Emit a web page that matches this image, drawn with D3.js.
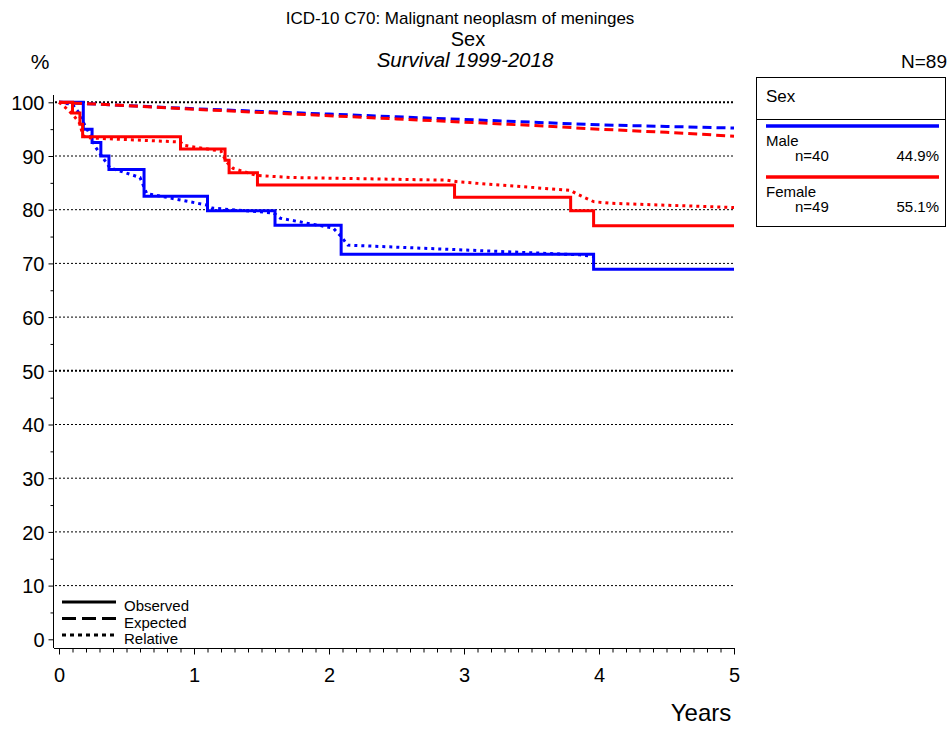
<!DOCTYPE html>
<html>
<head>
<meta charset="utf-8">
<script src="https://cdn.jsdelivr.net/npm/d3@7"></script>
<style>
  body { margin: 0; background: #ffffff; }
  svg { display: block; font-family: "Liberation Sans", Arial, sans-serif; }
</style>
</head>
<body>
<div id="svgOutput"></div>
<script>
// data

const years = [0, 1, 2, 3, 4, 5];
const yTicks = [0, 10, 20, 30, 40, 50, 60, 70, 80, 90, 100];

const maleObsT = [0, 0.18, 0.245, 0.31, 0.37, 0.63, 1.10, 1.60, 2.09, 3.96, 5];
const maleObsS = [100, 95.0, 92.5, 90.0, 87.5, 82.5, 79.8, 77.1, 71.7, 68.9, 68.9];
const maleExpT = [0, 0.5, 1, 1.5, 2, 2.5, 3, 3.5, 4, 4.5, 5];
const maleExpS = [100, 99.4, 98.8, 98.3, 97.8, 97.3, 96.8, 96.3, 95.8, 95.5, 95.2];
const maleRelT = [0, 0.1, 0.143, 0.156, 0.19, 0.24, 0.267, 0.316, 0.378, 0.6, 0.65, 1.09, 1.13, 1.59, 1.64, 2.03, 2.09, 2.14, 3.86, 3.96];
const maleRelS = [100, 99.6, 98.2, 97.3, 95.8, 93.5, 91.8, 90.0, 87.8, 86.0, 83.0, 80.9, 80.3, 79.4, 78.4, 76.6, 75.0, 73.4, 71.6, 71.3];

const femaleObsT = [0, 0.1, 0.155, 0.175, 0.90, 1.23, 1.26, 1.47, 2.93, 3.79, 3.96, 5];
const femaleObsS = [100, 98.0, 95.9, 93.6, 91.3, 89.2, 86.9, 84.6, 82.3, 79.8, 77.0, 77.0];
const femaleExpT = [0, 0.5, 1, 1.5, 2, 2.5, 3, 3.5, 4, 4.5, 5];
const femaleExpS = [100, 99.4, 98.7, 98.1, 97.5, 96.9, 96.3, 95.7, 95.0, 94.4, 93.7];
const femaleRelT = [0, 0.044, 0.106, 0.156, 0.175, 0.2, 0.9, 0.92, 1.2, 1.24, 1.29, 1.46, 1.71, 2.87, 2.95, 3.79, 3.83, 3.96, 4.08, 5];
const femaleRelS = [100, 99.1, 97.6, 96.0, 93.9, 93.4, 92.6, 92.0, 90.9, 88.9, 87.7, 86.4, 86.0, 85.5, 85.2, 83.6, 83.0, 81.5, 81.2, 80.4];

const groups = ["Male", "Female"];
const groupN = ["n=40", "n=49"];
const groupPct = ["44.9%", "55.1%"];
const groupColors = ["#0000ff", "#ff0000"];

(function () {
  document.addEventListener('DOMContentLoaded', function () {

    // config

    const width = 949;
    const height = 729;
    const font = '"Liberation Sans", Arial, sans-serif';

    const zip = (t, s) => t.map((d, i) => [d, s[i]]);

    const series = [
      { color: groupColors[0], obs: zip(maleObsT, maleObsS), exp: zip(maleExpT, maleExpS), rel: zip(maleRelT, maleRelS) },
      { color: groupColors[1], obs: zip(femaleObsT, femaleObsS), exp: zip(femaleExpT, femaleExpS), rel: zip(femaleRelT, femaleRelS) }
    ];

    // scales

    const xScale = d3.scaleLinear()
      .domain([0, 5])
      .range([59, 734]);

    const yScale = d3.scaleLinear()
      .domain([0, 100])
      .range([639.3, 102.3]);

    // svg output

    const svg = d3.select("#svgOutput")
      .append("svg")
      .attr("width", width)
      .attr("height", height)
      .attr("viewBox", [0, 0, width, height]);

    // titles

    svg.append("text")
      .attr("x", 460).attr("y", 24)
      .attr("text-anchor", "middle")
      .style("font-size", "17px")
      .text("ICD-10 C70: Malignant neoplasm of meninges");

    svg.append("text")
      .attr("x", 468).attr("y", 46)
      .attr("text-anchor", "middle")
      .style("font-size", "20px")
      .text("Sex");

    svg.append("text")
      .attr("x", 465).attr("y", 67)
      .attr("text-anchor", "middle")
      .style("font-size", "20.5px")
      .style("font-style", "italic")
      .text("Survival 1999-2018");

    svg.append("text")
      .attr("x", 40).attr("y", 69)
      .attr("text-anchor", "middle")
      .style("font-size", "21px")
      .text("%");

    svg.append("text")
      .attr("x", 947).attr("y", 68)
      .attr("text-anchor", "end")
      .style("font-size", "19px")
      .text("N=89");

    // gridlines

    svg.append("g")
      .selectAll("line")
      .data(yTicks.filter(d => d > 0))
      .join("line")
      .attr("x1", 55)
      .attr("x2", xScale(5))
      .attr("y1", d => yScale(d))
      .attr("y2", d => yScale(d))
      .attr("stroke", "#000")
      .attr("stroke-width", d => (d === 50 || d === 100) ? 2 : 1)
      .attr("stroke-dasharray", "2,2");

    // axes

    const yAxis = d3.axisLeft(yScale)
      .tickValues(d3.range(0, 101, 5))
      .tickSize(5)
      .tickFormat(d => d % 10 === 0 ? d : "");

    svg.append("g")
      .attr("transform", "translate(53.5, 0)")
      .call(yAxis)
      .call(g => g.select(".domain").remove())
      .call(g => g.selectAll(".tick line")
        .attr("stroke", "#000")
        .attr("x2", d => d % 10 === 0 ? -5 : -3))
      .call(g => g.selectAll(".tick text")
        .attr("x", -9)
        .attr("dy", "0.36em")
        .style("font-family", font)
        .style("font-size", "20px")
        .attr("fill", "#000"));

    svg.append("line")
      .attr("x1", 53.5).attr("x2", 53.5)
      .attr("y1", 95).attr("y2", 648)
      .attr("stroke", "#000");

    const xAxis = d3.axisBottom(xScale)
      .tickValues(d3.range(0, 51).map(d => d / 10))
      .tickSize(4)
      .tickFormat((d, i) => i % 10 === 0 ? d3.format("d")(d) : "");

    svg.append("g")
      .attr("transform", "translate(0, 648.5)")
      .call(xAxis)
      .call(g => g.select(".domain").remove())
      .call(g => g.selectAll(".tick line")
        .attr("stroke", "#000")
        .attr("y2", (d, i) => i % 10 === 0 ? 6 : 4))
      .call(g => g.selectAll(".tick text")
        .attr("y", 19)
        .attr("dy", "0.71em")
        .style("font-family", font)
        .style("font-size", "20px")
        .attr("fill", "#000"));

    svg.append("line")
      .attr("x1", 54).attr("x2", xScale(5) + 1)
      .attr("y1", 648.5).attr("y2", 648.5)
      .attr("stroke", "#000");

    svg.append("text")
      .attr("x", 701).attr("y", 721)
      .attr("text-anchor", "middle")
      .style("font-size", "24px")
      .text("Years");

    // curves

    const stepLine = d3.line()
      .x(d => xScale(d[0]))
      .y(d => yScale(d[1]))
      .curve(d3.curveStepAfter);

    const line = d3.line()
      .x(d => xScale(d[0]))
      .y(d => yScale(d[1]));

    series.forEach(s => {
      svg.append("path")
        .attr("d", line(s.exp))
        .attr("fill", "none")
        .attr("stroke", s.color)
        .attr("stroke-width", 3)
        .attr("stroke-dasharray", "9,5");

      svg.append("path")
        .attr("d", line(s.rel))
        .attr("fill", "none")
        .attr("stroke", s.color)
        .attr("stroke-width", 3)
        .attr("stroke-dasharray", "3,4");

      svg.append("path")
        .attr("d", stepLine(s.obs))
        .attr("fill", "none")
        .attr("stroke", s.color)
        .attr("stroke-width", 3);
    });

    // line style legend

    const styles = [
      { label: "Observed", dash: null },
      { label: "Expected", dash: "14,6" },
      { label: "Relative", dash: "4,4" }
    ];

    styles.forEach((d, i) => {
      const yy = 602 + i * 16.5;
      svg.append("line")
        .attr("x1", 62).attr("x2", 116)
        .attr("y1", yy).attr("y2", yy)
        .attr("stroke", "#000")
        .attr("stroke-width", 3)
        .attr("stroke-dasharray", d.dash);
      svg.append("text")
        .attr("x", 124).attr("y", yy + 9)
        .style("font-size", "15px")
        .text(d.label);
    });

    // group legend

    svg.append("rect")
      .attr("x", 756.5).attr("y", 77.5)
      .attr("width", 189).attr("height", 149)
      .attr("fill", "#fff")
      .attr("stroke", "#000");

    svg.append("line")
      .attr("x1", 756.5).attr("x2", 945.5)
      .attr("y1", 119.5).attr("y2", 119.5)
      .attr("stroke", "#000");

    svg.append("text")
      .attr("x", 766).attr("y", 102)
      .style("font-size", "17px")
      .text("Sex");

    groups.forEach((g, i) => {
      const top = 126 + i * 51;
      svg.append("line")
        .attr("x1", 766).attr("x2", 939)
        .attr("y1", top).attr("y2", top)
        .attr("stroke", groupColors[i])
        .attr("stroke-width", 3.5);
      svg.append("text")
        .attr("x", 766).attr("y", top + 20)
        .style("font-size", "15px")
        .text(g);
      svg.append("text")
        .attr("x", 795).attr("y", top + 35)
        .style("font-size", "15px")
        .text(groupN[i]);
      svg.append("text")
        .attr("x", 939).attr("y", top + 35)
        .attr("text-anchor", "end")
        .style("font-size", "15px")
        .text(groupPct[i]);
    });

  });
})();
</script>
</body>
</html>
